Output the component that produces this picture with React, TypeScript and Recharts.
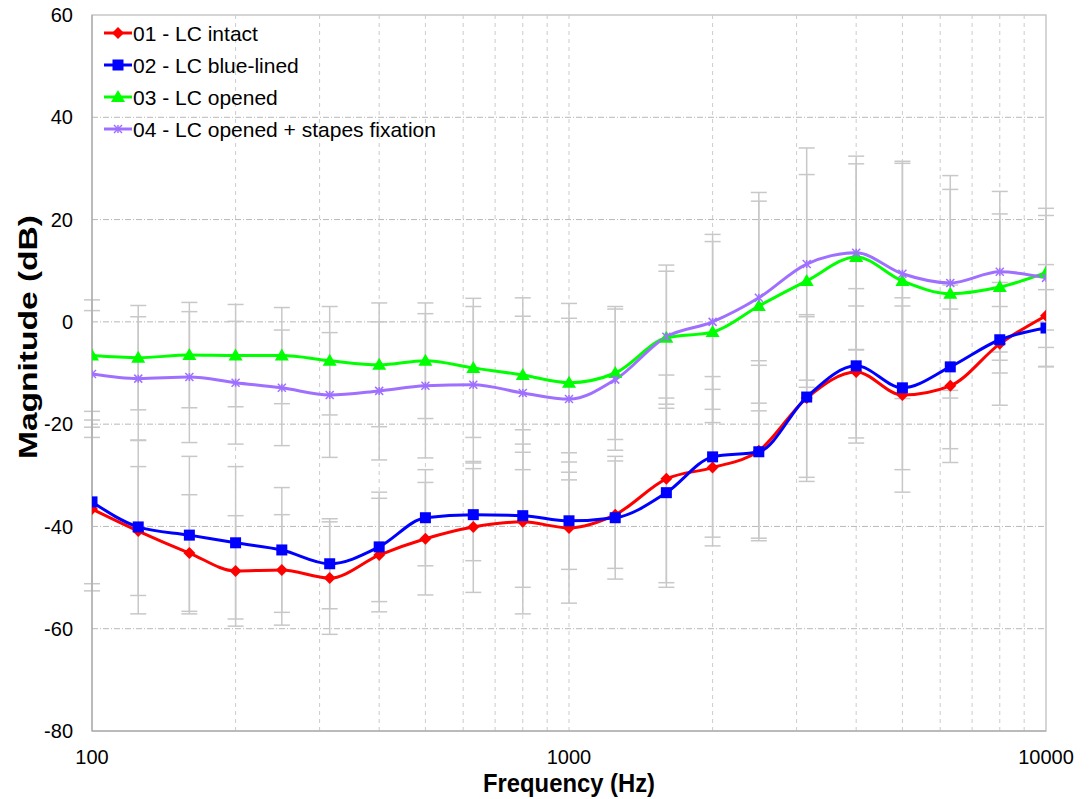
import React from 'react';
import { LineChart, Line, XAxis, YAxis, ReferenceLine, ReferenceArea, ErrorBar } from 'recharts';

// 1/3-octave centre frequencies (Hz)
const FREQS = [100, 125, 160, 200, 250, 315, 400, 500, 630, 800, 1000, 1250, 1600, 2000, 2500, 3150, 4000, 5000, 6300, 8000, 10000];

const intact = [-36.6, -40.9, -45.2, -48.7, -48.5, -50.1, -45.6, -42.4, -40.1, -39.1, -40.3, -37.7, -30.7, -28.5, -25.2, -14.9, -9.8, -14.3, -12.5, -4.3, 1.2];
const blueLined = [-35.2, -40.1, -41.7, -43.2, -44.6, -47.3, -44.0, -38.3, -37.7, -37.9, -38.9, -38.3, -33.4, -26.4, -25.4, -14.7, -8.6, -12.9, -8.8, -3.5, -1.2];
const opened = [-6.6, -7.0, -6.5, -6.6, -6.6, -7.6, -8.4, -7.6, -9.0, -10.4, -11.9, -10.0, -3.1, -2.0, 3.1, 8.0, 12.7, 8.0, 5.5, 6.8, 9.6];
const stapes = [-10.2, -11.1, -10.8, -11.9, -12.9, -14.3, -13.5, -12.5, -12.3, -13.9, -15.1, -11.3, -2.9, 0.0, 4.7, 11.3, 13.5, 9.4, 7.6, 9.8, 8.6];

// standard deviations (error bars)
const intactErr = [16, 12.6, 11.4, 10.8, 10.8, 11, 11.1, 11, 12.8, 18, 14.7, 10.5, 20.3, 15.3, 17.6, 16.3, 12.9, 19, 15, 12, 10];
const blueLinedErr = [16, 17, 15.4, 14.9, 12.2, 8.8, 10.7, 9.4, 9, 14, 9.5, 12, 18.5, 15.7, 16.9, 15.7, 15.1, 16, 16, 6.5, 7.5];
const openedErr = [10.9, 10.2, 10.3, 10, 9.4, 10.6, 12.1, 11.3, 13.6, 15.1, 15.5, 13, 13, 17.7, 20.5, 20.8, 18.2, 23, 20.4, 14.3, 11.2];
const stapesErr = [12.4, 12.1, 12.8, 12, 11.3, 12.2, 13.5, 14.1, 15.3, 15, 15.8, 13.8, 14, 17.1, 20.6, 22.7, 18.9, 22, 21, 15.7, 13.6];

const X_TICKS = [100, 1000, 10000];
const Y_TICKS = [-80, -60, -40, -20, 0, 20, 40, 60];
const H_GRID = [-60, -40, -20, 0, 20, 40];
const V_GRID = [200, 300, 400, 500, 600, 700, 800, 900, 1000, 2000, 3000, 4000, 5000, 6000, 7000, 8000, 9000];

const data = FREQS.map((f, i) => ({
  f,
  s1: intact[i], e1: intactErr[i],
  s2: blueLined[i], e2: blueLinedErr[i],
  s3: opened[i], e3: openedErr[i],
  s4: stapes[i], e4: stapesErr[i],
}));

const FONT = '"Liberation Sans", Arial, sans-serif';

const Diamond = ({ cx, cy, c }: any) =>
  cx == null ? null : <polygon points={`${cx},${cy - 6} ${cx + 6},${cy} ${cx},${cy + 6} ${cx - 6},${cy}`} fill={c} />;

const Square = ({ cx, cy, c }: any) =>
  cx == null ? null : <rect x={cx - 5.5} y={cy - 5.5} width={11} height={11} fill={c} />;

const Triangle = ({ cx, cy, c }: any) =>
  cx == null ? null : <polygon points={`${cx},${cy - 7} ${cx + 7},${cy + 5} ${cx - 7},${cy + 5}`} fill={c} />;

const Star = ({ cx, cy, c }: any) =>
  cx == null ? null : (
    <g stroke={c} strokeWidth={1.5}>
      <line x1={cx - 4} y1={cy - 4} x2={cx + 4} y2={cy + 4} />
      <line x1={cx - 4} y1={cy + 4} x2={cx + 4} y2={cy - 4} />
      <line x1={cx} y1={cy - 4} x2={cx} y2={cy + 4} />
    </g>
  );

const SERIES = [
  { key: 's1', err: 'e1', name: '01 - LC intact', color: '#ff0000', Marker: Diamond },
  { key: 's2', err: 'e2', name: '02 - LC blue-lined', color: '#0000ff', Marker: Square },
  { key: 's3', err: 'e3', name: '03 - LC opened', color: '#00ff00', Marker: Triangle },
  { key: 's4', err: 'e4', name: '04 - LC opened + stapes fixation', color: '#9f70ff', Marker: Star },
];

// axis titles
const YTitle = ({ viewBox }: any) => {
  const cx = viewBox.x + 28;
  const cy = viewBox.y + viewBox.height / 2 - 36;
  return (
    <text x={cx} y={cy} transform={`rotate(-90 ${cx} ${cy})`} textAnchor="middle" dominantBaseline="central"
      fontSize={25} fontWeight="bold" fontFamily={FONT} fill="#000" textLength={244} lengthAdjust="spacingAndGlyphs">
      Magnitude (dB)
    </text>
  );
};

const XTitle = ({ viewBox }: any) => (
  <text x={viewBox.x + viewBox.width / 2} y={viewBox.y + 61} textAnchor="middle"
    fontSize={25} fontWeight="bold" fontFamily={FONT} fill="#000" textLength={172} lengthAdjust="spacingAndGlyphs">
    Frequency (Hz)
  </text>
);

// legend overlaid in the upper-left corner of the plot area
const LegendBox = () => (
  <div style={{ position: 'absolute', left: 104, top: 17, fontFamily: FONT, fontSize: 21, color: '#000', lineHeight: 1 }}>
    {SERIES.map((s) => (
      <div key={s.key} style={{ display: 'flex', alignItems: 'center', height: 32 }}>
        <svg width={28} height={20} style={{ marginRight: 1 }}>
          <line x1={0} y1={10} x2={28} y2={10} stroke={s.color} strokeWidth={3} />
          <s.Marker cx={14} cy={10} c={s.color} />
        </svg>
        <span>{s.name}</span>
      </div>
    ))}
  </div>
);

export default function App() {
  return (
    <div style={{ position: 'absolute', left: 0, top: 0, width: 1091, height: 799, background: '#fff' }}>
      <LineChart width={1091} height={799} data={data} margin={{ top: 15, right: 45, bottom: 0, left: 0 }}>
        {V_GRID.map((v) => (
          <ReferenceLine key={`v${v}`} x={v} stroke="#cccccc" strokeDasharray="4 4" />
        ))}
        {H_GRID.map((v) => (
          <ReferenceLine key={`h${v}`} y={v} stroke="#b8b8b8" strokeDasharray="6 2 1 2" />
        ))}
        <XAxis
          type="number"
          dataKey="f"
          scale="log"
          domain={[100, 10000]}
          ticks={X_TICKS}
          allowDataOverflow
          tickLine={false}
          axisLine={{ stroke: '#a0a0a0' }}
          tick={{ fill: '#000', fontSize: 20, fontFamily: FONT }}
          tickMargin={13}
          height={68}
          label={<XTitle />}
        />
        <YAxis
          type="number"
          domain={[-80, 60]}
          ticks={Y_TICKS}
          allowDataOverflow
          tickLine={false}
          axisLine={{ stroke: '#a0a0a0' }}
          tick={{ fill: '#000', fontSize: 20, fontFamily: FONT }}
          tickMargin={13}
          width={92}
          label={<YTitle />}
        />
        {SERIES.map((s) => (
          <Line
            key={`err-${s.key}`}
            dataKey={s.key}
            stroke="none"
            dot={false}
            activeDot={false}
            legendType="none"
            isAnimationActive={false}
          >
            <ErrorBar dataKey={s.err} direction="y" width={8} stroke="#c8c8c8" strokeWidth={1.5} />
          </Line>
        ))}
        {SERIES.map((s) => (
          <Line
            key={s.key}
            type="monotone"
            dataKey={s.key}
            name={s.name}
            stroke={s.color}
            strokeWidth={3}
            dot={<s.Marker c={s.color} />}
            activeDot={false}
            isAnimationActive={false}
          />
        ))}
        <ReferenceArea x1={100} x2={10000} y1={-80} y2={60} fill="none" fillOpacity={0} stroke="#c8c8c8" strokeWidth={1.5} />
      </LineChart>
      <LegendBox />
    </div>
  );
}
